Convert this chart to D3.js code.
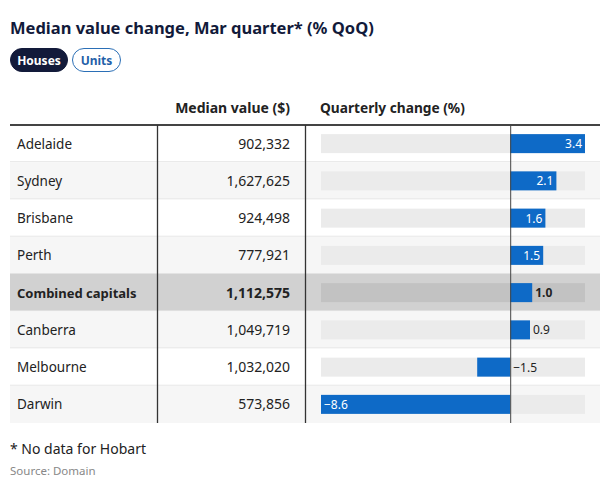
<!DOCTYPE html>
<html><head><meta charset="utf-8">
<script src="https://cdn.jsdelivr.net/npm/d3@7"></script>
<style>
body{margin:0;background:#fff;}
svg text{font-family:"Noto Sans",sans-serif;}
</style></head>
<body><svg id="c" width="602" height="483"></svg>
<script>
const cities = ["Adelaide","Sydney","Brisbane","Perth","Combined capitals","Canberra","Melbourne","Darwin"];
const medianValues = [902332,1627625,924498,777921,1112575,1049719,1032020,573856];
const quarterlyChange = [3.4,2.1,1.6,1.5,1.0,0.9,-1.5,-8.6];
const highlight = "Combined capitals";
const title = "Median value change, Mar quarter* (% QoQ)";
const tabs = ["Houses","Units"];
const headers = ["Median value ($)","Quarterly change (%)"];
const footnote = "* No data for Hobart";
const source = "Source: Domain";

const svg = d3.select("#c");
const navy = "#121a3a", blue = "#0e6ac7", textCol = "#222";

svg.append("text").attr("x",10).attr("y",34).attr("font-size",16.5).attr("font-weight",700)
  .attr("fill",navy).text(title);

// tabs
const tabX = [10,72], tabW = [58,49];
tabs.forEach((t,i)=>{
  svg.append("rect").attr("x",tabX[i]+0.5).attr("y",48.5).attr("width",tabW[i]-1).attr("height",23)
    .attr("rx",11.5).attr("fill",i===0?navy:"#fff").attr("stroke",i===0?navy:"#2b6fb6").attr("stroke-width",1);
  svg.append("text").attr("x",tabX[i]+tabW[i]/2).attr("y",64.5).attr("text-anchor","middle")
    .attr("font-size",12).attr("font-weight",700).attr("fill",i===0?"#fff":"#1f5fa8").text(t);
});

const tableL = 10, tableR = 600, col1 = 157, col2 = 305, tableTop = 125, rowH = 37.25;
const y = d3.scaleBand().domain(cities).range([tableTop, tableTop+rowH*cities.length]).padding(0);
const x = d3.scaleLinear().domain([d3.min(quarterlyChange), d3.max(quarterlyChange)]).range([321,585]);
const fmt = d3.format(",");

svg.append("text").attr("x",290).attr("y",113).attr("text-anchor","end").attr("font-size",14)
  .attr("font-weight",700).attr("fill",textCol).text(headers[0]);
svg.append("text").attr("x",320).attr("y",113).attr("font-size",13.7)
  .attr("font-weight",700).attr("fill",textCol).text(headers[1]);

const rows = svg.append("g").selectAll("g").data(cities).join("g")
  .attr("transform",d=>`translate(0,${y(d)})`);

rows.append("rect").attr("x",tableL).attr("width",tableR-tableL).attr("height",y.bandwidth())
  .attr("fill",(d,i)=>d===highlight?"#d1d1d1":(i%2?"#f6f6f6":"#fff"));
rows.append("line").attr("x1",tableL).attr("x2",tableR).attr("y1",y.bandwidth()-0.5).attr("y2",y.bandwidth()-0.5)
  .attr("stroke",(d,i)=>i===cities.length-1?"none":"#e3e3e3");

rows.append("text").attr("x",17).attr("y",y.bandwidth()/2+5).attr("font-size",d=>d===highlight?13:13.5)
  .attr("font-weight",d=>d===highlight?700:400).attr("fill",textCol).text(d=>d);
rows.append("text").attr("x",290).attr("y",y.bandwidth()/2+5).attr("text-anchor","end").attr("font-size",14)
  .attr("font-weight",d=>d===highlight?700:400).attr("fill",textCol).text((d,i)=>fmt(medianValues[i]));

const bh = 19;
rows.append("rect").attr("x",x.range()[0]).attr("width",x.range()[1]-x.range()[0])
  .attr("y",(y.bandwidth()-bh)/2).attr("height",bh)
  .attr("fill",d=>d===highlight?"#c2c2c2":"#ebebeb");
rows.append("rect").attr("x",(d,i)=>x(Math.min(0,quarterlyChange[i])))
  .attr("width",(d,i)=>Math.abs(x(quarterlyChange[i])-x(0)))
  .attr("y",(y.bandwidth()-bh)/2).attr("height",bh).attr("fill",blue);

const fmtv = v => (v<0?"\u2212":"")+Math.abs(v).toFixed(1);
rows.append("text").attr("y",y.bandwidth()/2+4.5).attr("font-size",12)
  .attr("font-weight",d=>d===highlight?700:400)
  .each(function(d,i){
    const v = quarterlyChange[i], w = Math.abs(x(v)-x(0));
    const t = d3.select(this).text(fmtv(v));
    if (v>=0){
      if(w>25) t.attr("x",x(v)-3).attr("text-anchor","end").attr("fill","#fff");
      else t.attr("x",x(v)+3).attr("text-anchor","start").attr("fill",textCol);
    } else {
      if(w>60) t.attr("x",x(v)+3).attr("text-anchor","start").attr("fill","#fff");
      else t.attr("x",x(0)+3).attr("text-anchor","start").attr("fill",textCol);
    }
  });

const bottom = tableTop + rowH*cities.length;
svg.append("line").attr("x1",tableL).attr("x2",tableR).attr("y1",tableTop).attr("y2",tableTop).attr("stroke","#444").attr("stroke-width",2);
[col1,col2].forEach(cx=>svg.append("line").attr("x1",cx+0.5).attr("x2",cx+0.5).attr("y1",tableTop).attr("y2",bottom)
  .attr("stroke","#333").attr("stroke-width",1.3));
svg.append("line").attr("x1",x(0)+0.5).attr("x2",x(0)+0.5).attr("y1",tableTop).attr("y2",bottom)
  .attr("stroke","#444").attr("stroke-width",1);

svg.append("text").attr("x",10).attr("y",454).attr("font-size",14).attr("fill",textCol).text(footnote);
svg.append("text").attr("x",10).attr("y",475).attr("font-size",11.5).attr("fill","#888").text(source);
</script></body></html>
